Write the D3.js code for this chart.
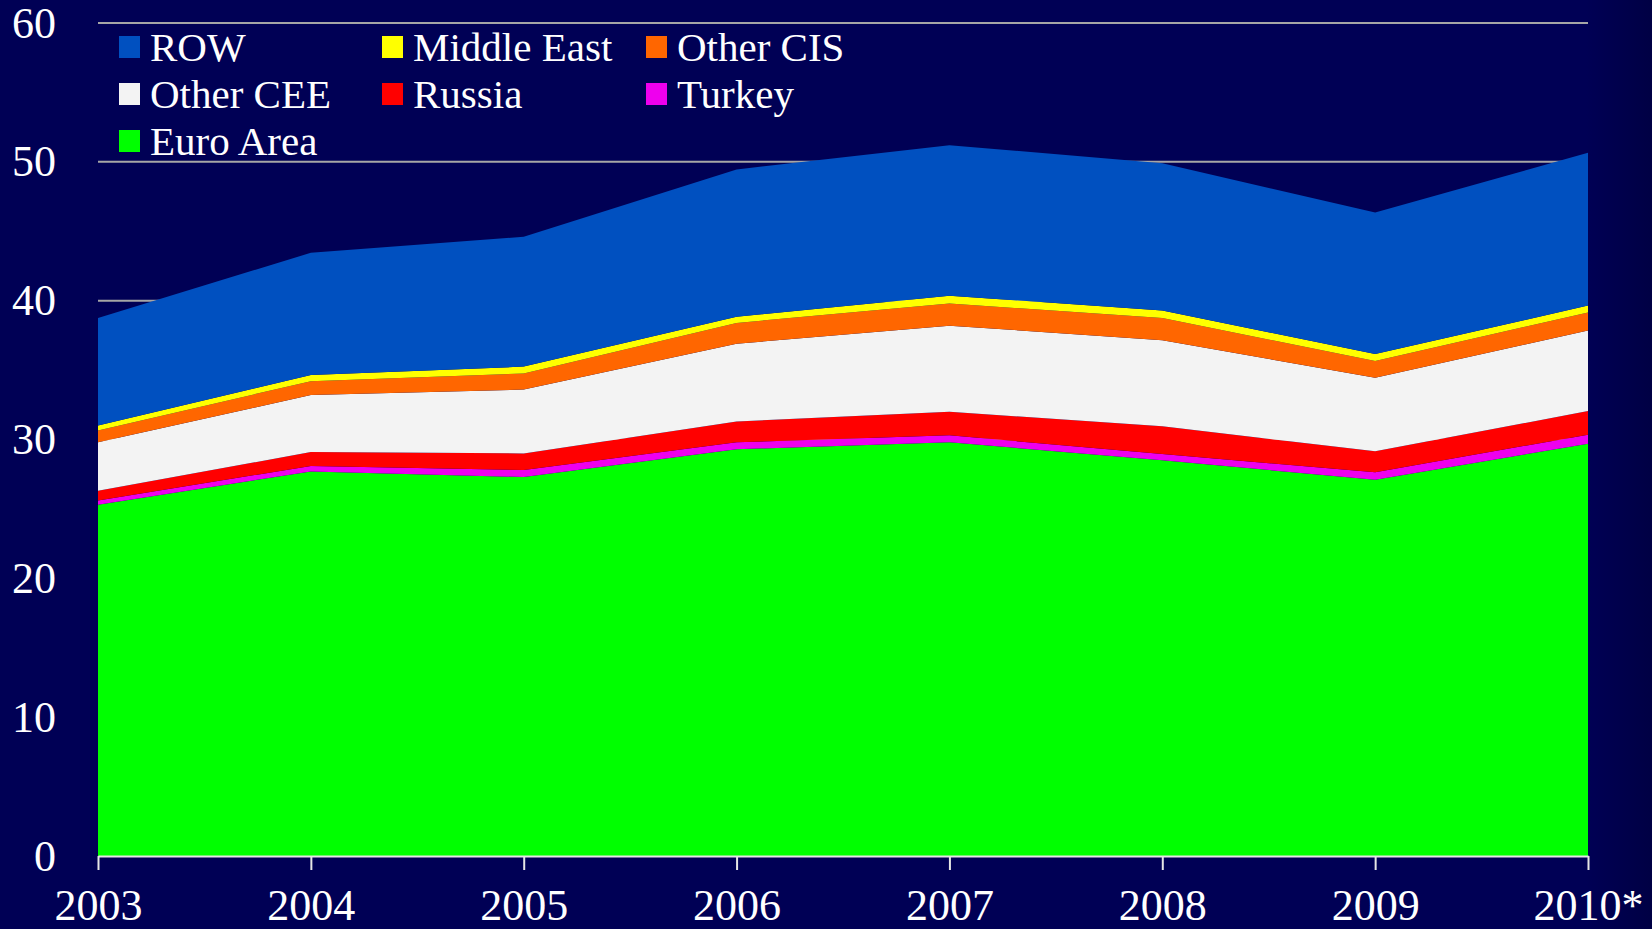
<!DOCTYPE html>
<html>
<head>
<meta charset="utf-8">
<script src="https://cdn.jsdelivr.net/npm/d3@7"></script>
<style>
  html, body { margin: 0; padding: 0; background: #000055; overflow: hidden; }
  svg { display: block; }
  text { font-family: "Liberation Serif", "DejaVu Serif", serif; fill: #ffffff; }
</style>
</head>
<body>
<div id="main"></div>
<script>
// years on the x axis
var years = ["2003", "2004", "2005", "2006", "2007", "2008", "2009", "2010*"];

// series, bottom to top of the stack
var euroArea   = [25.3, 27.7, 27.3, 29.3, 29.8, 28.5, 27.1, 29.7];
var turkey     = [0.3, 0.4, 0.5, 0.5, 0.5, 0.45, 0.55, 0.65];
var russia     = [0.7, 1.0, 1.2, 1.5, 1.7, 2.0, 1.5, 1.7];
var otherCEE   = [3.5, 4.1, 4.6, 5.6, 6.2, 6.2, 5.3, 5.8];
var otherCIS   = [0.85, 1.0, 1.15, 1.5, 1.6, 1.6, 1.2, 1.3];
var middleEast = [0.35, 0.45, 0.5, 0.45, 0.55, 0.55, 0.5, 0.5];
var row        = [7.75, 8.8, 9.35, 10.6, 10.85, 10.6, 10.2, 11.0];

var yTicks = [0, 10, 20, 30, 40, 50, 60];

var series = [
  { key: "Euro Area",   values: euroArea,   color: "#00ff00" },
  { key: "Turkey",      values: turkey,     color: "#ee00ee" },
  { key: "Russia",      values: russia,     color: "#ff0000" },
  { key: "Other CEE",   values: otherCEE,   color: "#f3f3f3" },
  { key: "Other CIS",   values: otherCIS,   color: "#ff6600" },
  { key: "Middle East", values: middleEast, color: "#ffff00" },
  { key: "ROW",         values: row,        color: "#0050c0" }
];

// legend layout order (row by row as in the picture)
var legendOrder = ["ROW", "Middle East", "Other CIS", "Other CEE", "Russia", "Turkey", "Euro Area"];

var W = 1652, H = 929;
var margin = { top: 23, right: 64, bottom: 73, left: 98 };
var width = W - margin.left - margin.right,
    height = H - margin.top - margin.bottom;

var table = years.map(function (y, i) {
  var o = { year: y };
  series.forEach(function (s) { o[s.key] = s.values[i]; });
  return o;
});

var svg = d3.select("#main").append("svg")
  .attr("width", W)
  .attr("height", H);

var defs = svg.append("defs");
var grad = defs.append("linearGradient").attr("id", "bg").attr("x1", 0).attr("x2", 1).attr("y1", 0).attr("y2", 0);
grad.append("stop").attr("offset", "0%").attr("stop-color", "#000055");
grad.append("stop").attr("offset", "96%").attr("stop-color", "#000055");
grad.append("stop").attr("offset", "100%").attr("stop-color", "#000044");
svg.append("rect").attr("width", W).attr("height", H).attr("fill", "url(#bg)");

var g = svg.append("g")
  .attr("transform", "translate(" + margin.left + "," + margin.top + ")");

var x = d3.scalePoint().domain(years).range([0, width]);
var y = d3.scaleLinear().domain([0, 60]).range([height, 0]);

// gridlines behind the areas
g.selectAll(".grid")
  .data(yTicks.filter(function (d) { return d > 0; }))
  .enter().append("line")
  .attr("x1", 0).attr("x2", width)
  .attr("y1", function (d) { return y(d); })
  .attr("y2", function (d) { return y(d); })
  .attr("stroke", "#a6a6a6")
  .attr("stroke-width", 2);

var stack = d3.stack().keys(series.map(function (s) { return s.key; }));
var layers = stack(table);

var area = d3.area()
  .x(function (d) { return x(d.data.year); })
  .y0(function (d) { return y(d[0]); })
  .y1(function (d) { return y(d[1]); });

g.selectAll(".layer")
  .data(layers)
  .enter().append("path")
  .attr("class", "layer")
  .attr("d", area)
  .attr("fill", function (d, i) { return series[i].color; });

// x axis
var xAxis = g.append("g")
  .attr("transform", "translate(0," + height + ")")
  .call(d3.axisBottom(x).tickSize(14).tickPadding(19).tickSizeOuter(0));
xAxis.select(".domain").attr("stroke", "#e6e6e6").attr("stroke-width", 2);
xAxis.selectAll(".tick line").attr("stroke", "#e6e6e6").attr("stroke-width", 2);
xAxis.selectAll(".tick text")
  .attr("fill", "#ffffff")
  .style("font-family", "'Liberation Serif', serif")
  .style("font-size", "44px");

// y axis labels
var yAxis = g.append("g")
  .call(d3.axisLeft(y).tickValues(yTicks).tickSize(0).tickPadding(42));
yAxis.select(".domain").remove();
yAxis.selectAll(".tick text")
  .attr("fill", "#ffffff")
  .style("font-family", "'Liberation Serif', serif")
  .style("font-size", "44px");

// legend
var legend = svg.append("g");
var colX = [119, 382, 646], rowY = [47, 94, 141];
legendOrder.forEach(function (k, i) {
  var s = series.find(function (d) { return d.key === k; });
  var lg = legend.append("g")
    .attr("transform", "translate(" + colX[i % 3] + "," + rowY[Math.floor(i / 3)] + ")");
  lg.append("rect")
    .attr("x", 0).attr("y", -11)
    .attr("width", 21).attr("height", 22)
    .attr("fill", s.color);
  lg.append("text")
    .attr("x", 31).attr("y", 0)
    .attr("dy", "0.35em")
    .style("font-size", "41px")
    .text(k);
});
</script>
</body>
</html>
